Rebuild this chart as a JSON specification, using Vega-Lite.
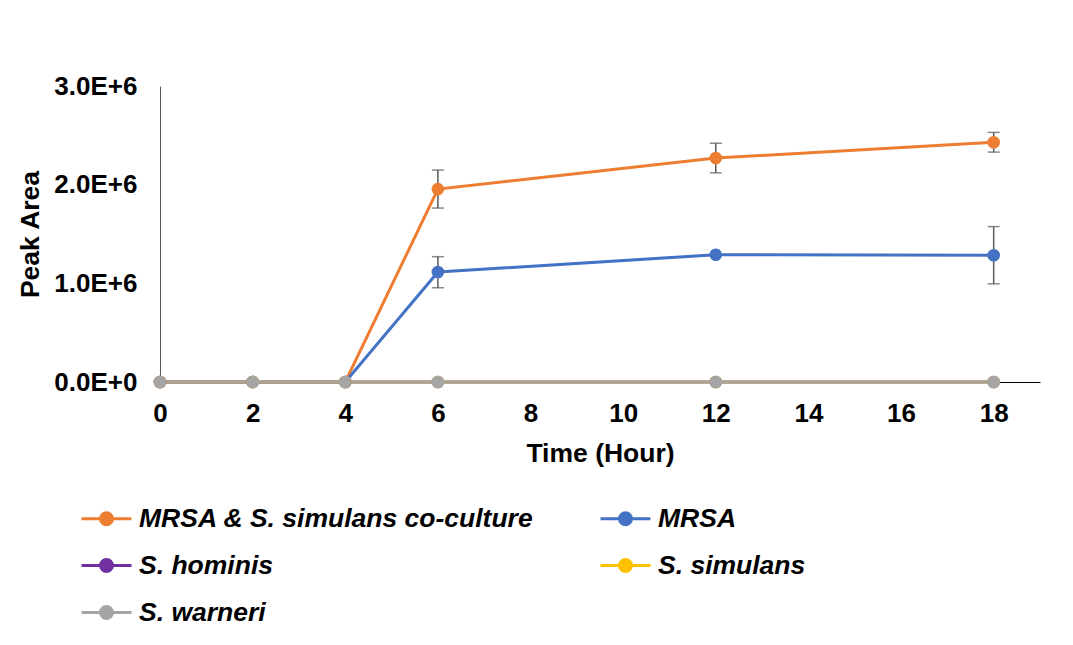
{
  "$schema": "https://vega.github.io/schema/vega-lite/v6.json",
  "width": 880,
  "height": 296,
  "autosize": "none",
  "padding": {"left": 160, "top": 86, "right": 33, "bottom": 263},
  "background": "white",
  "config": {
    "view": {"stroke": null},
    "font": "Liberation Sans",
    "axis": {"grid": false, "ticks": false, "tickSize": 0, "labelFont": "Liberation Sans", "titleFont": "Liberation Sans", "labelColor": "#000000", "titleColor": "#000000", "labelFontWeight": "bold", "titleFontWeight": "bold"}
  },
  "datasets": {
    "series": [
      {"series": "MRSA & S. simulans co-culture", "time": 0, "area": 0},
      {"series": "MRSA & S. simulans co-culture", "time": 2, "area": 0},
      {"series": "MRSA & S. simulans co-culture", "time": 4, "area": 0},
      {"series": "MRSA & S. simulans co-culture", "time": 6, "area": 1955000},
      {"series": "MRSA & S. simulans co-culture", "time": 12, "area": 2270000},
      {"series": "MRSA & S. simulans co-culture", "time": 18, "area": 2430000},
      {"series": "MRSA", "time": 0, "area": 0},
      {"series": "MRSA", "time": 2, "area": 0},
      {"series": "MRSA", "time": 4, "area": 0},
      {"series": "MRSA", "time": 6, "area": 1115000},
      {"series": "MRSA", "time": 12, "area": 1290000},
      {"series": "MRSA", "time": 18, "area": 1285000},
      {"series": "S. hominis", "time": 0, "area": 0},
      {"series": "S. hominis", "time": 2, "area": 0},
      {"series": "S. hominis", "time": 4, "area": 0},
      {"series": "S. hominis", "time": 6, "area": 0},
      {"series": "S. hominis", "time": 12, "area": 0},
      {"series": "S. hominis", "time": 18, "area": 0},
      {"series": "S. simulans", "time": 0, "area": 0},
      {"series": "S. simulans", "time": 2, "area": 0},
      {"series": "S. simulans", "time": 4, "area": 0},
      {"series": "S. simulans", "time": 6, "area": 0},
      {"series": "S. simulans", "time": 12, "area": 0},
      {"series": "S. simulans", "time": 18, "area": 0},
      {"series": "S. warneri", "time": 0, "area": 0},
      {"series": "S. warneri", "time": 2, "area": 0},
      {"series": "S. warneri", "time": 4, "area": 0},
      {"series": "S. warneri", "time": 6, "area": 0},
      {"series": "S. warneri", "time": 12, "area": 0},
      {"series": "S. warneri", "time": 18, "area": 0}
    ],
    "err": [
      {"series": "MRSA & S. simulans co-culture", "time": 6, "lo": 1763000, "hi": 2148000},
      {"series": "MRSA & S. simulans co-culture", "time": 12, "lo": 2120000, "hi": 2420000},
      {"series": "MRSA & S. simulans co-culture", "time": 18, "lo": 2330000, "hi": 2530000},
      {"series": "MRSA", "time": 6, "lo": 955000, "hi": 1270000},
      {"series": "MRSA", "time": 18, "lo": 995000, "hi": 1575000}
    ]
  },
  "layer": [
    {
      "data": {"name": "series"},
      "mark": {"type": "line", "strokeWidth": 3},
      "encoding": {
        "x": {"field": "time", "type": "quantitative", "title": "Time (Hour)", "scale": {"domain": [0, 19], "nice": false},
              "axis": {"title": "Time (Hour)", "values": [0, 2, 4, 6, 8, 10, 12, 14, 16, 18], "labelFontSize": 26, "labelPadding": 18, "titleFontSize": 26.5, "titleX": 440, "titleY": 71, "titleBaseline": "middle", "domainColor": "#000000", "domainWidth": 1, "labelFlush": false}},
        "y": {"field": "area", "type": "quantitative", "title": "Peak Area", "scale": {"domain": [0, 3000000], "nice": false},
              "axis": {"title": "Peak Area", "values": [0, 1000000, 2000000, 3000000], "labelExpr": "datum.value == 0 ? '0.0E+0' : format(datum.value / 1000000, '.1f') + 'E+6'", "labelFontSize": 26, "labelPadding": 23, "titleFontSize": 26.5, "titleX": -130, "titleY": 148, "titleBaseline": "middle", "titleAngle": -90, "domainColor": "#595959", "domainWidth": 1}},
        "color": {"field": "series", "type": "nominal",
                  "scale": {"domain": ["MRSA & S. simulans co-culture", "S. hominis", "S. warneri", "MRSA", "S. simulans"], "range": ["#ED7D31", "#7030A0", "#A5A5A5", "#4472C4", "#FFC000"]},
                  "legend": {"title": null, "orient": "none", "legendX": -67.5, "legendY": 418.5, "columns": 2, "columnPadding": 60, "rowPadding": 19, "padding": 0,
                             "symbolType": "M-2,0H2M-0.48,0A0.48,0.48,0,1,1,0.48,0A0.48,0.48,0,1,1,-0.48,0Z", "symbolSize": 625, "symbolStrokeWidth": 3,
                             "labelFont": "Liberation Sans", "labelFontSize": 26.5, "labelFontWeight": "bold", "labelFontStyle": "italic", "labelColor": "#000000", "labelOffset": 18.5, "labelLimit": 700,
                             "encode": {"symbols": {"update": {"fill": {"scale": "color", "field": "value"}, "stroke": {"scale": "color", "field": "value"}, "strokeWidth": {"value": 3}, "opacity": {"value": 1}}}}}}
      }
    },
    {
      "data": {"name": "err"},
      "mark": {"type": "errorbar", "color": "#595959", "thickness": 1.5, "ticks": {"size": 12}},
      "encoding": {
        "x": {"field": "time", "type": "quantitative", "title": "Time (Hour)"},
        "y": {"field": "lo", "type": "quantitative", "title": "Peak Area"},
        "y2": {"field": "hi"}
      }
    },
    {
      "data": {"name": "series"},
      "mark": {"type": "point", "filled": true, "size": 160, "opacity": 1},
      "encoding": {
        "x": {"field": "time", "type": "quantitative", "title": "Time (Hour)"},
        "y": {"field": "area", "type": "quantitative", "title": "Peak Area"},
        "color": {"field": "series", "type": "nominal", "legend": null}
      }
    }
  ]
}
